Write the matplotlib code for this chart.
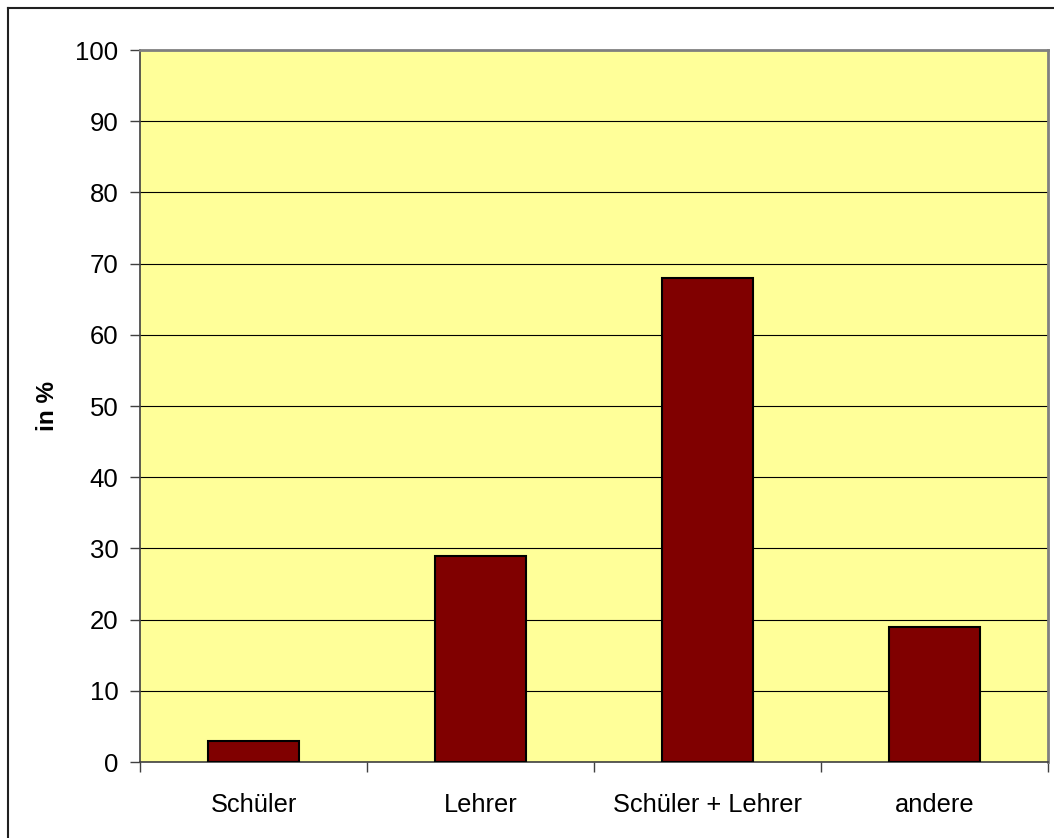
import matplotlib
matplotlib.use("Agg")
import matplotlib.pyplot as plt
from matplotlib.lines import Line2D

categories = ["Schüler", "Lehrer", "Schüler + Lehrer", "andere"]
values = [3, 29, 68, 19]
yticks = [0, 10, 20, 30, 40, 50, 60, 70, 80, 90, 100]

plt.rcParams['font.family'] = ['Liberation Sans', 'DejaVu Sans']

W, H = 1054, 838
fig = plt.figure(figsize=(W / 100, H / 100), dpi=100)
ax = fig.add_axes([140 / W, (H - 762) / H, (1048 - 140) / W, (762 - 50) / H])
ax.set_facecolor('#FFFF99')

x = list(range(len(categories)))
ax.bar(x, values, width=0.405, color='#800000', edgecolor='black', linewidth=1.5, zorder=3)

ax.set_xlim(-0.5, len(categories) - 0.5)
ax.set_ylim(0, 100)
ax.set_yticks(yticks)
ax.set_yticklabels([str(v) for v in yticks], fontsize=18.5)
ax.yaxis.grid(True, color='black', linewidth=0.8, zorder=1)
ax.set_axisbelow(True)

ax.set_xticks([i + 0.5 for i in range(-1, len(categories))])
ax.set_xticklabels([])
ax.set_xticks(x, minor=True)
ax.set_xticklabels(categories, minor=True, fontsize=18.3)
ax.tick_params(axis='x', which='minor', length=0, pad=22)
ax.tick_params(axis='x', which='major', length=7, width=1, color='#404040', direction='out')
ax.tick_params(axis='y', length=7, width=1, color='#404040', direction='out', pad=8.5)

for side in ['top', 'right']:
    ax.spines[side].set_color('#808080')
    ax.spines[side].set_linewidth(2)
ax.spines['left'].set_color('#404040')
ax.spines['bottom'].set_color('#404040')
ax.spines['left'].set_linewidth(1.2)
ax.spines['bottom'].set_linewidth(1.2)

ax.set_ylabel('in %', fontsize=17.5, fontweight='bold', labelpad=12)

# outer frame
fig.add_artist(Line2D([8 / W, 8 / W], [0, 1 - 8 / H], transform=fig.transFigure, color='#202020', linewidth=1.5))
fig.add_artist(Line2D([8 / W, 1], [1 - 8 / H, 1 - 8 / H], transform=fig.transFigure, color='#202020', linewidth=1.5))

fig.savefig('out.png', dpi=100, facecolor='white')
